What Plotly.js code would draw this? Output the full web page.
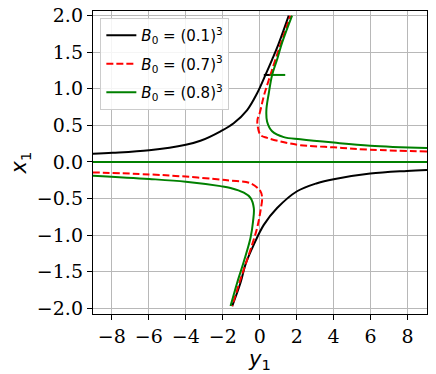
<!DOCTYPE html>
<html>
<head>
<meta charset="utf-8">
<script src="https://cdn.plot.ly/plotly-3.0.1.min.js"></script>
<style>html,body{margin:0;padding:0;background:#fff;}#chart{width:436px;height:374px;}</style>
</head>
<body>
<div id="chart"></div>
<script>
// Legend labels
const seriesNames = [
  "<i>B</i><sub>0</sub> = (0.1)<sup>3</sup>",
  "<i>B</i><sub>0</sub> = (0.7)<sup>3</sup>",
  "<i>B</i><sub>0</sub> = (0.8)<sup>3</sup>"
];
// Black curve (B0 = 0.1^3): horizontal y1, vertical x1; null separates branches
const blackY1 = [-9.05,-7.96,-5.98,-4.0,-3.21,-2.12,-1.41,-0.68,-0.14,0.31,0.67,1.0,1.57, null,
                 -1.49,-1.04,-0.77,-0.32,0.22,0.94,2.02,3.10,4.0,5.98,7.97,9.05, null,
                 0.22,0.58];
const blackX1 = [0.112,0.125,0.16,0.235,0.29,0.42,0.53,0.71,0.94,1.19,1.40,1.60,2.0, null,
                 -1.97,-1.65,-1.40,-1.13,-0.86,-0.63,-0.40,-0.29,-0.235,-0.158,-0.122,-0.108, null,
                 1.19,1.19];
// Red dashed curve (B0 = 0.7^3)
const redY1 = [9.05,5.98,4.0,2.2,1.12,0.4,0.04,-0.11,-0.12,0.0,0.22,0.49,0.85,1.25,1.66, null,
               -9.05,-5.98,-4.0,-2.12,-1.58,-0.5,0.04,0.13,0.04,-0.14,-0.41,-0.77,-1.1,-1.49];
const redX1 = [0.145,0.168,0.2,0.23,0.28,0.33,0.37,0.49,0.58,0.67,0.90,1.12,1.40,1.70,2.0, null,
               -0.142,-0.17,-0.2,-0.24,-0.255,-0.29,-0.40,-0.49,-0.67,-0.90,-1.13,-1.40,-1.65,-1.97];
// Green curve (B0 = 0.8^3)
const greenY1 = [9.05,5.98,4.0,2.2,1.3,0.67,0.4,0.36,0.49,0.67,0.94,1.21,1.75, null,
                 -9.05,-5.98,-4.0,-2.12,-1.58,-0.86,-0.5,-0.32,-0.36,-0.5,-0.86,-1.22,-1.58, null,
                 -9.05,9.05, null,
                 0.58,1.38];
const greenX1 = [0.19,0.223,0.265,0.31,0.34,0.42,0.55,0.71,0.94,1.19,1.40,1.63,2.0, null,
                 -0.187,-0.232,-0.27,-0.33,-0.355,-0.42,-0.49,-0.63,-0.81,-1.04,-1.36,-1.65,-1.97, null,
                 0,0, null,
                 1.19,1.19];
const xTicks = [-8,-6,-4,-2,0,2,4,6,8];
const yTicks = [-2.0,-1.5,-1.0,-0.5,0.0,0.5,1.0,1.5,2.0];

const traces = [
  {x: blackY1, y: blackX1, name: seriesNames[0], legendgroup: 'a', mode: 'lines',
   line: {color: 'black', width: 2, shape: 'spline', smoothing: 1}},
  {x: redY1, y: redX1, name: seriesNames[1], legendgroup: 'b', mode: 'lines',
   line: {color: '#ff0000', width: 2, dash: '7px,3px', shape: 'spline', smoothing: 1}},
  {x: greenY1, y: greenX1, name: seriesNames[2], legendgroup: 'c', mode: 'lines',
   line: {color: '#008000', width: 2, shape: 'spline', smoothing: 1}}
];

const axisCommon = {
  showline: true, mirror: true, linecolor: 'black', linewidth: 1.2,
  ticks: 'outside', ticklen: 5, tickcolor: 'black', tickwidth: 1,
  showgrid: true, gridcolor: '#b8b8b8', gridwidth: 1,
  zeroline: false,
  tickfont: {family: 'DejaVu Serif', size: 19, color: 'black'}
};

const layout = {
  width: 436, height: 374,
  margin: {l: 93, r: 9, t: 11, b: 60},
  paper_bgcolor: 'white', plot_bgcolor: 'white',
  showlegend: true,
  legend: {
    x: 0.022, y: 0.977, xanchor: 'left', yanchor: 'top',
    tracegroupgap: 6,
    bgcolor: 'rgba(255,255,255,0.85)', bordercolor: '#cccccc', borderwidth: 1,
    font: {family: 'DejaVu Sans', size: 15, color: 'black'}
  },
  xaxis: Object.assign({}, axisCommon, {
    range: [-9.02, 9.05], tickvals: xTicks, ticktext: xTicks.map(v => v < 0 ? '\u2212' + Math.abs(v) : String(v)),
    title: {text: '<i>y</i><sub>1</sub>', font: {family: 'DejaVu Sans', size: 21, color: 'black'}, standoff: 0}
  }),
  yaxis: Object.assign({}, axisCommon, {
    range: [-2.078, 2.064], tickvals: yTicks, ticktext: yTicks.map(v => (v < 0 ? '\u2212' : '') + Math.abs(v).toFixed(1)),
    title: {text: '<i>x</i><sub>1</sub>', font: {family: 'DejaVu Sans', size: 21, color: 'black'}, standoff: 4}
  })
};

Plotly.newPlot('chart', traces, layout, {displayModeBar: false, staticPlot: true});
</script>
</body>
</html>
